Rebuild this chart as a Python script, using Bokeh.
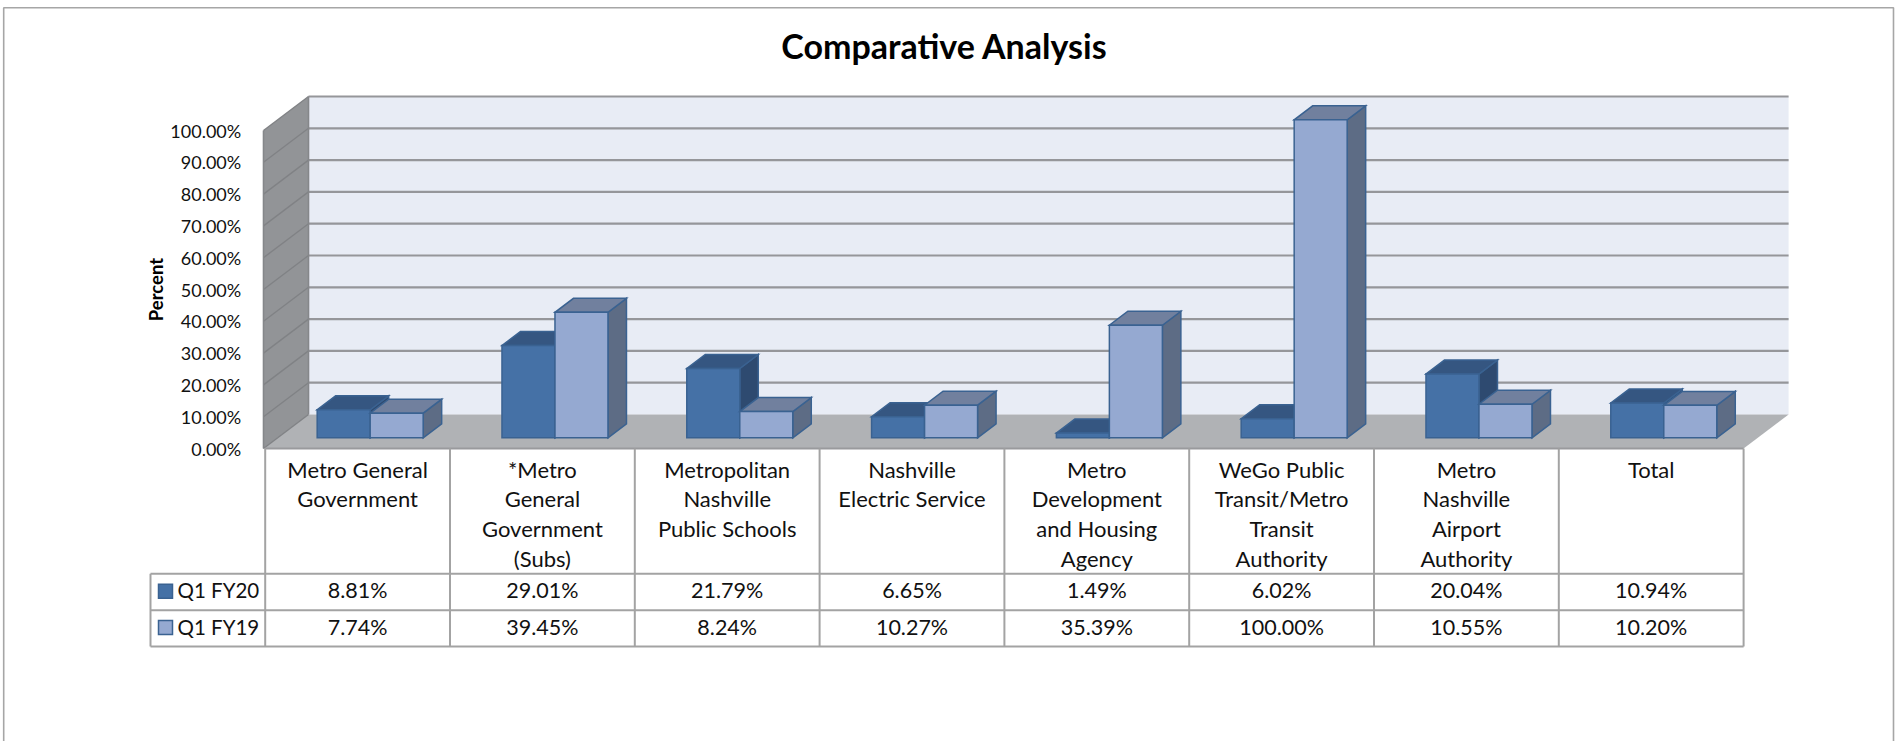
from bokeh.plotting import figure
from bokeh.models import Range1d, FixedTicker, PrintfTickFormatter
from bokeh.core.properties import value
from bokeh.embed import file_html
from bokeh.resources import INLINE

categories = ["Metro General\nGovernment", "*Metro\nGeneral\nGovernment\n(Subs)",
              "Metropolitan\nNashville\nPublic Schools", "Nashville\nElectric Service",
              "Metro\nDevelopment\nand Housing\nAgency", "WeGo Public\nTransit/Metro\nTransit\nAuthority",
              "Metro\nNashville\nAirport\nAuthority", "Total"]
q1_fy20 = [8.81, 29.01, 21.79, 6.65, 1.49, 6.02, 20.04, 10.94]
q1_fy19 = [7.74, 39.45, 8.24, 10.27, 35.39, 100.00, 10.55, 10.20]
series_names = ["Q1 FY20", "Q1 FY19"]
y_ticks = [0, 10, 20, 30, 40, 50, 60, 70, 80, 90, 100]

W, H = 1895, 741
X0, XU, Y0, YU = 264.7, 184.8, 448.0, 3.18
FONT = "Lato"

def ux(px): return (px - X0) / XU
def uy(py): return (Y0 - py) / YU

DEPTH_X, DEPTH_Y = 45 / XU, 34 / YU      # oblique projection of the 3-D depth
D_FRONT, D_BACK = 0.315, 0.726           # depth planes of the bars
BAR_W = 53 / XU
BAR_SHIFT = -1.6 / XU
WALL_U = ux(263)
N = len(categories)

p = figure(width=W, height=H, output_backend="svg", toolbar_location=None,
           x_range=Range1d(ux(0), ux(W)), y_range=Range1d(uy(H), uy(0)),
           min_border=0, margin=0, background_fill_color="white",
           border_fill_color="white", outline_line_color=None)
p.grid.visible = False

def proj(u, d, v):
    return u + d * DEPTH_X, v + d * DEPTH_Y

def poly(points, fill, line=None, lw=1.5):
    xs = [q[0] for q in points]
    ys = [q[1] for q in points]
    p.patch(xs, ys, fill_color=fill, line_color=line, line_width=lw, line_join="miter")

def seg(xs, ys, color, lw=2.0):
    p.line(xs, ys, line_color=color, line_width=lw, line_cap="butt")

GRID = "#95969A"
TABLE = "#A3A3A3"

# chart-area frame
seg([ux(3.2), ux(3.2), ux(1893), ux(1893)], [uy(741), uy(7.3), uy(7.3), uy(741)], "#A6A6A6", 1.6)

# walls and floor
poly([proj(WALL_U, 0, 0), proj(WALL_U, 1, 0), proj(WALL_U, 1, 100), proj(WALL_U, 0, 100)], "#929497")
poly([proj(WALL_U, 1, 0), proj(N, 1, 0), proj(N, 1, 100), proj(WALL_U, 1, 100)], "#E8ECF5")
poly([proj(WALL_U, 0, 0), proj(N, 0, 0), proj(N, 1, 0), proj(WALL_U, 1, 0)], "#B0B2B5")
for t in y_ticks:
    a, b = proj(WALL_U, 1, t), proj(N, 1, t)
    c = proj(WALL_U, 0, t)
    if t > 0:
        seg([a[0], b[0]], [a[1], b[1]], GRID, 2.2)
    seg([c[0], a[0]], [c[1], a[1]], "#808285", 1.4)
a, b = proj(WALL_U, 0, 0), proj(WALL_U, 0, 100)
seg([a[0], b[0]], [a[1], b[1]], "#85878A", 1.6)
a, b = proj(WALL_U, 1, 0), proj(WALL_U, 1, 100)
seg([a[0], b[0]], [a[1], b[1]], "#85878A", 1.6)

# bars
def bar(left, v, front, top, side):
    right = left + BAR_W
    poly([proj(right, D_FRONT, 0), proj(right, D_BACK, 0), proj(right, D_BACK, v), proj(right, D_FRONT, v)],
         side, "#3A6291")
    poly([proj(left, D_FRONT, v), proj(right, D_FRONT, v), proj(right, D_BACK, v), proj(left, D_BACK, v)],
         top, "#3A6291")
    poly([proj(left, D_FRONT, 0), proj(right, D_FRONT, 0), proj(right, D_FRONT, v), proj(left, D_FRONT, v)],
         front, "#3A6291")

for i in range(N):
    c = i + 0.5 + BAR_SHIFT
    bar(c - BAR_W, q1_fy20[i], "#4571A6", "#355681", "#2E4A70")
    bar(c, q1_fy19[i], "#95A9D1", "#71809E", "#5D6C85")

# data table
rows_py = [573.3, 609.7, 646.0]
seg([0, N], [0, 0], "#999A9D", 2.0)
for k in range(N + 1):
    seg([k, k], [0, uy(rows_py[-1])], TABLE, 2.0)
left_x = ux(150)
for r in rows_py:
    seg([left_x, N], [uy(r), uy(r)], TABLE, 2.0)
seg([left_x, left_x], [uy(rows_py[0]), uy(rows_py[-1])], TABLE, 2.0)

row_centers = [589.7, 626.0]
for r, vals in enumerate([q1_fy20, q1_fy19]):
    p.text([i + 0.5 for i in range(N)], [uy(row_centers[r])] * N, text=[f"{v:.2f}%" for v in vals],
           text_font=value(FONT), text_font_size="21.5px", text_color="#111111",
           text_align="center", text_baseline="middle")
    p.text([ux(177)], [uy(row_centers[r])], text=[series_names[r]],
           text_font=value(FONT), text_font_size="20.5px", text_color="#111111",
           text_align="left", text_baseline="middle")
for r, (f, ln) in enumerate([("#4571A6", "#3A6291"), ("#95A9D1", "#3A6291")]):
    cy = row_centers[r] + 1
    poly([(ux(158), uy(cy - 7)), (ux(172), uy(cy - 7)), (ux(172), uy(cy + 7)), (ux(158), uy(cy + 7))], f, ln)

# title
p.text([ux(944)], [uy(45)], text=["Comparative Analysis"], text_font=value(FONT), text_font_style="bold",
       text_font_size="34px", text_color="#000000", text_align="center", text_baseline="middle")

# axes, placed in data coordinates
ya = p.yaxis[0]
ya.fixed_location = 0
ya.bounds = (0, 100)
ya.ticker = FixedTicker(ticks=y_ticks)
ya.formatter = PrintfTickFormatter(format="%.2f%%")
ya.axis_line_color = None
ya.major_tick_line_color = None
ya.minor_tick_line_color = None
ya.major_label_standoff = 18
ya.major_label_text_font = FONT
ya.major_label_text_font_size = "18px"
ya.major_label_text_color = "#111111"
ya.axis_label = "Percent"
ya.axis_label_text_font = FONT
ya.axis_label_text_font_style = "bold"
ya.axis_label_text_font_size = "18.5px"
ya.axis_label_text_color = "#000000"
ya.axis_label_standoff = 1

xa = p.xaxis[0]
xa.fixed_location = 0
xa.ticker = FixedTicker(ticks=[i + 0.5 for i in range(N)])
xa.major_label_overrides = {i + 0.5: categories[i] for i in range(N)}
xa.axis_line_color = None
xa.major_tick_line_color = None
xa.minor_tick_line_color = None
xa.major_label_standoff = 1
xa.major_label_text_font = FONT
xa.major_label_text_font_size = "22px"
xa.major_label_text_color = "#111111"
xa.major_label_text_line_height = 1.11

open("out.html", "w").write(file_html(p, INLINE))
